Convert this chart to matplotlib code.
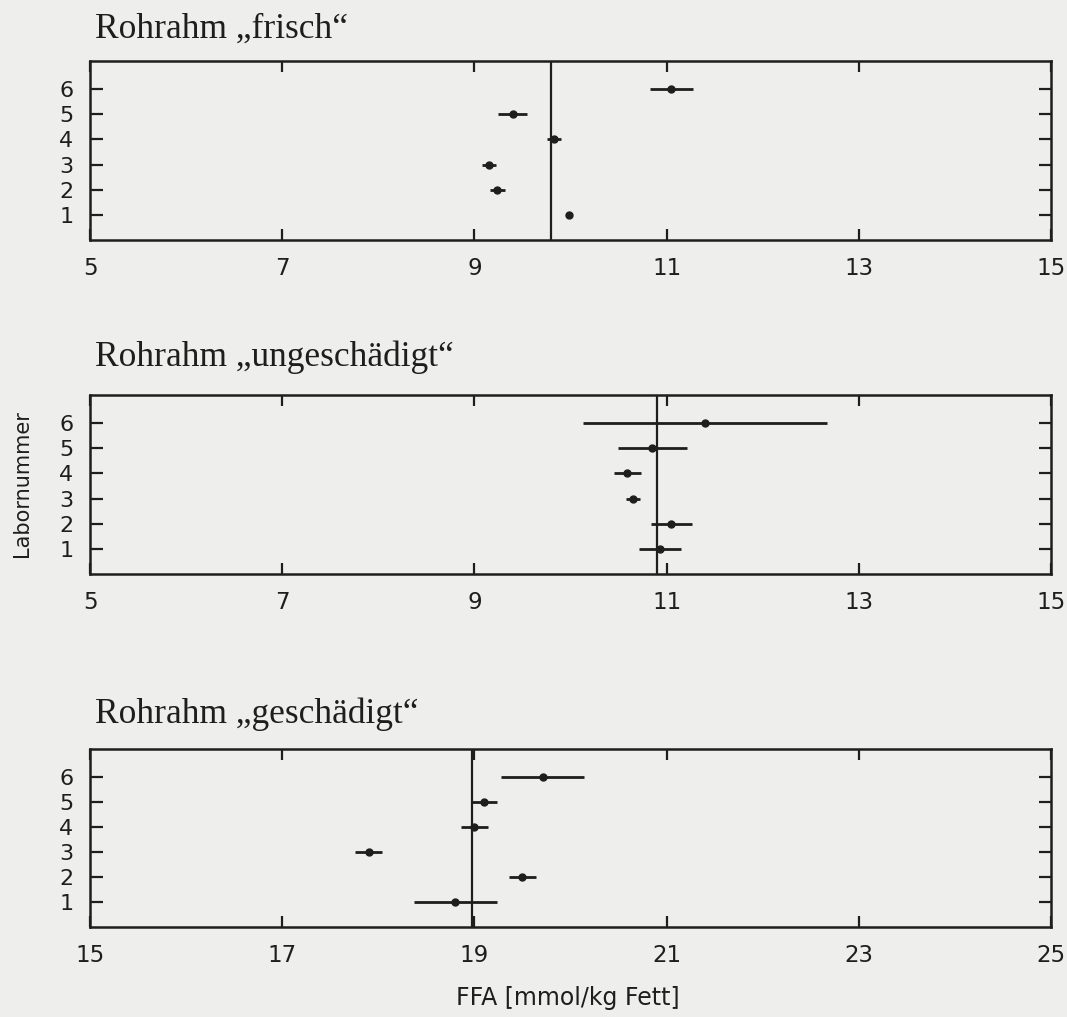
import matplotlib
matplotlib.use("Agg")
import matplotlib.pyplot as plt

# Labornummer 1..6
labs = [1, 2, 3, 4, 5, 6]

# Rohrahm "frisch"
frisch_mean = [9.98, 9.24, 9.15, 9.83, 9.40, 11.05]
frisch_err = [0.03, 0.08, 0.07, 0.07, 0.15, 0.22]
frisch_ref = 9.80

# Rohrahm "ungeschaedigt"
unges_mean = [10.93, 11.05, 10.65, 10.59, 10.85, 11.40]
unges_err = [0.22, 0.21, 0.07, 0.14, 0.36, 1.27]
unges_ref = 10.90

# Rohrahm "geschaedigt"
ges_mean = [18.80, 19.50, 17.90, 19.00, 19.10, 19.71]
ges_err = [0.43, 0.14, 0.14, 0.14, 0.14, 0.43]
ges_ref = 18.97

titles = ["Rohrahm \u201efrisch\u201c", "Rohrahm \u201eungesch\u00e4digt\u201c",
          "Rohrahm \u201egesch\u00e4digt\u201c"]
xranges = [(5, 15), (5, 15), (15, 25)]

bg = "#eeeeec"
ink = "#1e1e1e"

fig = plt.figure(figsize=(10.67, 10.17), dpi=100, facecolor=bg)

W, H = 1067.0, 1017.0
# (top, bottom) of each frame in pixels, and title baseline
boxes = [(61, 240), (395, 574), (749, 927)]
title_base = [38, 366, 723]
left, right = 90, 1051

panels = [(frisch_mean, frisch_err, frisch_ref),
          (unges_mean, unges_err, unges_ref),
          (ges_mean, ges_err, ges_ref)]

for i, (means, errs, ref) in enumerate(panels):
    top, bot = boxes[i]
    ax = fig.add_axes([left / W, 1 - bot / H, (right - left) / W, (bot - top) / H])
    ax.set_facecolor(bg)
    x0, x1 = xranges[i]
    ax.set_xlim(x0, x1)
    ax.set_ylim(0.0, 7.12)
    ax.axvline(ref, color=ink, lw=1.6)
    ax.errorbar(means, labs, xerr=errs, fmt="o", color=ink, ms=5,
                elinewidth=2.0, capsize=0)
    ax.set_xticks(range(x0, x1 + 1, 2))
    ax.set_yticks(labs)
    for s in ax.spines.values():
        s.set_linewidth(1.8)
        s.set_color(ink)
    ax.tick_params(axis="x", direction="in", top=True, length=8, width=1.6,
                   pad=12, labelsize=16.5, colors=ink)
    ax.tick_params(axis="y", direction="in", right=True, length=9, width=1.6,
                   pad=12, labelsize=16, colors=ink)
    for lab in ax.get_xticklabels() + ax.get_yticklabels():
        lab.set_family("DejaVu Sans")
    fig.text(95 / W, 1 - title_base[i] / H, titles[i], family="Liberation Serif",
             fontsize=25.5, va="baseline", ha="left", color=ink)

fig.text(22 / W, 1 - 484 / H, "Labornummer", rotation=90, ha="center",
         va="center", fontsize=15, family="DejaVu Sans", color=ink)
fig.text(568 / W, 1 - 998 / H, "FFA [mmol/kg Fett]", ha="center", va="center",
         fontsize=17, family="DejaVu Sans", color=ink)

fig.savefig("out.png", dpi=100, facecolor=bg)
